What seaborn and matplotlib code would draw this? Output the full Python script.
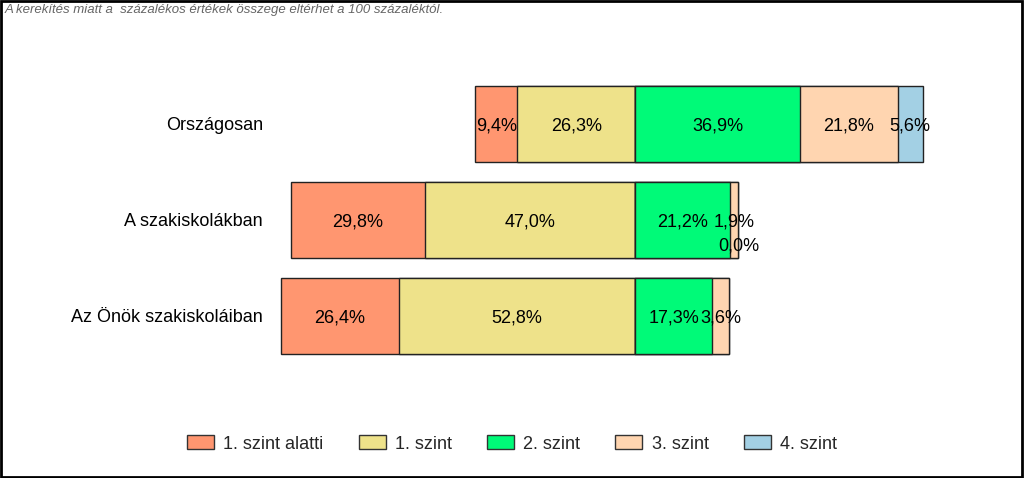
import numpy as np
import pandas as pd
import matplotlib
matplotlib.use("Agg")
import matplotlib.pyplot as plt
from matplotlib.patches import Patch, Rectangle
import seaborn as sns

sns.set_theme(style="white")
plt.rcParams['font.family'] = ['Liberation Sans', 'DejaVu Sans']

categories = ["Országosan", "A szakiskolákban", "Az Önök szakiskoláiban"]
below1 = [9.4, 29.8, 26.4]
lvl1 = [26.3, 47.0, 52.8]
lvl2 = [36.9, 21.2, 17.3]
lvl3 = [21.8, 1.9, 3.6]
lvl4 = [5.6, 0.0, np.nan]
series_names = ["1. szint alatti", "1. szint", "2. szint", "3. szint", "4. szint"]
colors = ["#FF9670", "#EEE28A", "#00FA78", "#FFD5B0", "#A3D0E4"]
note = "A kerekítés miatt a  százalékos értékek összege eltérhet a 100 százaléktól."

df = pd.DataFrame({"cat": categories, "b1": below1, "l1": lvl1,
                   "l2": lvl2, "l3": lvl3, "l4": lvl4})
f = df.fillna(0)

fig = plt.figure(figsize=(10.24, 4.78), dpi=100)
ax = fig.add_axes([270/1024, 1 - 370/478, 730/1024, 300/478])

layers = [
    (-(f.b1 + f.l1), colors[0]),
    (-f.l1, colors[1]),
    (f.l2 + f.l3 + f.l4, colors[4]),
    (f.l2 + f.l3, colors[3]),
    (f.l2, colors[2]),
]
for vals, c in layers:
    sns.barplot(x=vals.values, y=df.cat, orient="h", color=c, edgecolor="#222222",
                linewidth=1.0, width=0.8, ax=ax, saturation=1)

ax.set_xlim(-81.56, 81.56)
ax.set_ylim(2.5625, -0.5625)
for s in ax.spines.values():
    s.set_visible(False)
ax.set_xticks([])
ax.set_xlabel("")
ax.set_ylabel("")
ax.tick_params(axis="y", length=0, pad=5, labelsize=13, labelcolor="black")

# segment labels
def fmt(v):
    return f"{v:.1f}%".replace(".", ",")

for i in range(len(categories)):
    segs = []
    start = -(f.b1[i] + f.l1[i])
    for key in ["b1", "l1", "l2", "l3", "l4"]:
        v = df[key][i]
        w = f[key][i]
        segs.append((start + w / 2, v))
        start += w
    for cx, v in segs:
        if pd.isna(v):
            continue
        dy = 0.25 if v == 0 else 0
        ax.text(cx, i + dy, fmt(v), ha="center", va="center_baseline", fontsize=13, color="black")

handles = [Patch(facecolor=c, edgecolor="#333333", linewidth=1) for c in colors]
fig.legend(handles, series_names, loc="center", bbox_to_anchor=(0.5, 1 - 444/478),
           ncol=5, frameon=False, fontsize=13, handlelength=1.5, handleheight=0.8,
           columnspacing=1.95, handletextpad=0.5)

fig.text(5/1024, 1 - 10/478, note, ha="left", va="center", fontsize=9.5,
         style="italic", color="#666666")

fig.patches.append(Rectangle((0.001, 0.002), 0.997, 0.996, transform=fig.transFigure,
                             fill=False, edgecolor="black", linewidth=2))

fig.savefig("out.png", dpi=100)
